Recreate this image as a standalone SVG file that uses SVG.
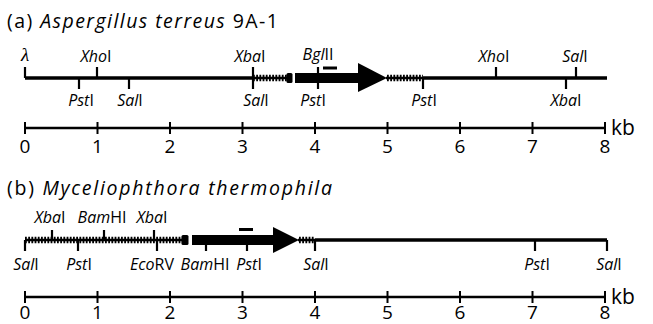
<svg xmlns="http://www.w3.org/2000/svg" width="653" height="324" viewBox="0 0 653 324">
  <defs>
    <style>
      text { font-family: "Open Sans", "Liberation Sans", Arial, sans-serif; fill: #000; }
      .title { font-size: 19.5px; }
      .site { font-size: 16px; text-anchor: middle; }
      .num { font-size: 19px; text-anchor: middle; }
      .unit { font-size: 21px; }
      .it { font-style: italic; }
      .dna { stroke: #000; stroke-width: 3.5; fill: none; }
      .hatch { stroke: #000; stroke-width: 6.5; stroke-dasharray: 1.8 1.4; fill: none; }
      .hbase { stroke: #000; stroke-width: 2.5; fill: none; }
      .tick { stroke: #000; stroke-width: 2.2; }
      .scale { stroke: #000; stroke-width: 2.5; }
      .sTick { stroke: #000; stroke-width: 2; }
      .probe { stroke: #000; stroke-width: 3; }
      .gene { fill: #000; }
    </style>
  </defs>

  <!-- Panel (a): Aspergillus terreus 9A-1 -->
  <g id="title-a">
    <text class="title" x="7" y="28" textLength="271" lengthAdjust="spacing">(a) <tspan class="it">Aspergillus terreus</tspan> 9A-1</text>
  </g>

  <g id="map-a">
    <line class="dna" x1="25" y1="78" x2="253" y2="78"/>
    <line class="hbase" x1="253" y1="78" x2="287" y2="78"/>
    <line class="hatch" x1="253" y1="78" x2="287" y2="78"/>
    <rect class="gene" x="286.5" y="73" width="6" height="10" rx="1.5"/>
    <rect class="gene" x="295" y="73" width="64" height="10"/>
    <polygon class="gene" points="358,63 387,78 358,92"/>
    <line class="hbase" x1="386" y1="78" x2="423" y2="78"/>
    <line class="hatch" x1="387" y1="78" x2="423" y2="78"/>
    <line class="dna" x1="423" y1="78" x2="607" y2="78"/>
    <line class="probe" x1="323" y1="68" x2="337" y2="68"/>
  </g>

  <g id="sites-a">
    <line class="tick" x1="25" y1="67" x2="25" y2="78"/>
    <text class="it" x="25" y="61" text-anchor="middle" style="font-size:19px;font-family:'Liberation Serif',serif">λ</text>
    <line class="tick" x1="97" y1="67" x2="97" y2="78"/>
    <text class="site" x="96" y="62"><tspan class="it">Xho</tspan>I</text>
    <line class="tick" x1="79" y1="78" x2="79" y2="89"/>
    <text class="site" x="81" y="106"><tspan class="it">Pst</tspan>I</text>
    <line class="tick" x1="129" y1="78" x2="129" y2="89"/>
    <text class="site" x="130" y="106"><tspan class="it">Sal</tspan>I</text>
    <line class="tick" x1="253" y1="67" x2="253" y2="89"/>
    <text class="site" x="250" y="62"><tspan class="it">Xba</tspan>I</text>
    <text class="site" x="256" y="106"><tspan class="it">Sal</tspan>I</text>
    <line class="tick" x1="318" y1="67" x2="318" y2="89"/>
    <text class="site" x="318" y="60"><tspan class="it">Bgl</tspan>II</text>
    <text class="site" x="313" y="106"><tspan class="it">Pst</tspan>I</text>
    <line class="tick" x1="423" y1="78" x2="423" y2="89"/>
    <text class="site" x="424" y="106"><tspan class="it">Pst</tspan>I</text>
    <line class="tick" x1="496" y1="67" x2="496" y2="78"/>
    <text class="site" x="494" y="62"><tspan class="it">Xho</tspan>I</text>
    <line class="tick" x1="576" y1="67" x2="576" y2="78"/>
    <text class="site" x="575" y="62"><tspan class="it">Sal</tspan>I</text>
    <line class="tick" x1="566" y1="78" x2="566" y2="89"/>
    <text class="site" x="566" y="106"><tspan class="it">Xba</tspan>I</text>
  </g>

  <g id="scale-a">
    <line class="scale" x1="25" y1="128" x2="605" y2="128"/>
    <g class="sTick">
      <line x1="25" y1="122" x2="25" y2="134"/>
      <line x1="97.5" y1="122" x2="97.5" y2="134"/>
      <line x1="170" y1="122" x2="170" y2="134"/>
      <line x1="242.5" y1="122" x2="242.5" y2="134"/>
      <line x1="315" y1="122" x2="315" y2="134"/>
      <line x1="387.5" y1="122" x2="387.5" y2="134"/>
      <line x1="460" y1="122" x2="460" y2="134"/>
      <line x1="532.5" y1="122" x2="532.5" y2="134"/>
      <line x1="605" y1="122" x2="605" y2="134"/>
    </g>
    <text class="num" x="25" y="153">0</text>
    <text class="num" x="97.5" y="153">1</text>
    <text class="num" x="170" y="153">2</text>
    <text class="num" x="242.5" y="153">3</text>
    <text class="num" x="315" y="153">4</text>
    <text class="num" x="387.5" y="153">5</text>
    <text class="num" x="460" y="153">6</text>
    <text class="num" x="532.5" y="153">7</text>
    <text class="num" x="605" y="153">8</text>
    <text class="unit" x="611" y="135">kb</text>
  </g>

  <!-- Panel (b): Myceliophthora thermophila -->
  <g id="title-b">
    <text class="title" x="7" y="195" textLength="325" lengthAdjust="spacing">(b) <tspan class="it">Myceliophthora thermophila</tspan></text>
  </g>

  <g id="map-b">
    <line class="hbase" x1="25" y1="240" x2="182" y2="240"/>
    <line class="hatch" x1="25" y1="240" x2="182" y2="240"/>
    <rect class="gene" x="181.5" y="235" width="7" height="10" rx="1.5"/>
    <rect class="gene" x="192" y="235" width="82" height="10"/>
    <polygon class="gene" points="273,227 299,240 273,253"/>
    <line class="hbase" x1="298" y1="240" x2="315" y2="240"/>
    <line class="hatch" x1="299" y1="240" x2="315" y2="240"/>
    <line class="dna" x1="315" y1="240" x2="607" y2="240"/>
    <line class="probe" x1="239" y1="229.5" x2="253" y2="229.5"/>
  </g>

  <g id="sites-b">
    <line class="tick" x1="52" y1="230" x2="52" y2="240"/>
    <text class="site" x="50" y="223"><tspan class="it">Xba</tspan>I</text>
    <line class="tick" x1="104" y1="230" x2="104" y2="240"/>
    <text class="site" x="102" y="223"><tspan class="it">Bam</tspan>HI</text>
    <line class="tick" x1="154" y1="230" x2="154" y2="240"/>
    <text class="site" x="152" y="223"><tspan class="it">Xba</tspan>I</text>
    <line class="tick" x1="25" y1="240" x2="25" y2="251"/>
    <text class="site" x="26" y="270"><tspan class="it">Sal</tspan>I</text>
    <line class="tick" x1="78" y1="240" x2="78" y2="251"/>
    <text class="site" x="79" y="270"><tspan class="it">Pst</tspan>I</text>
    <line class="tick" x1="157" y1="240" x2="157" y2="251"/>
    <text class="site" x="152" y="270"><tspan class="it">Eco</tspan>RV</text>
    <line class="tick" x1="206" y1="240" x2="206" y2="251"/>
    <text class="site" x="205" y="270"><tspan class="it">Bam</tspan>HI</text>
    <line class="tick" x1="247" y1="240" x2="247" y2="251"/>
    <text class="site" x="249" y="270"><tspan class="it">Pst</tspan>I</text>
    <line class="tick" x1="315" y1="240" x2="315" y2="251"/>
    <text class="site" x="316" y="270"><tspan class="it">Sal</tspan>I</text>
    <line class="tick" x1="535" y1="240" x2="535" y2="251"/>
    <text class="site" x="537" y="270"><tspan class="it">Pst</tspan>I</text>
    <line class="tick" x1="607" y1="240" x2="607" y2="251"/>
    <text class="site" x="609" y="270"><tspan class="it">Sal</tspan>I</text>
  </g>

  <g id="scale-b">
    <line class="scale" x1="25" y1="297" x2="605" y2="297"/>
    <g class="sTick">
      <line x1="25" y1="291" x2="25" y2="303"/>
      <line x1="97.5" y1="291" x2="97.5" y2="303"/>
      <line x1="170" y1="291" x2="170" y2="303"/>
      <line x1="242.5" y1="291" x2="242.5" y2="303"/>
      <line x1="315" y1="291" x2="315" y2="303"/>
      <line x1="387.5" y1="291" x2="387.5" y2="303"/>
      <line x1="460" y1="291" x2="460" y2="303"/>
      <line x1="532.5" y1="291" x2="532.5" y2="303"/>
      <line x1="605" y1="291" x2="605" y2="303"/>
    </g>
    <text class="num" x="25" y="319">0</text>
    <text class="num" x="97.5" y="319">1</text>
    <text class="num" x="170" y="319">2</text>
    <text class="num" x="242.5" y="319">3</text>
    <text class="num" x="315" y="319">4</text>
    <text class="num" x="387.5" y="319">5</text>
    <text class="num" x="460" y="319">6</text>
    <text class="num" x="532.5" y="319">7</text>
    <text class="num" x="605" y="319">8</text>
    <text class="unit" x="611" y="304">kb</text>
  </g>
</svg>
